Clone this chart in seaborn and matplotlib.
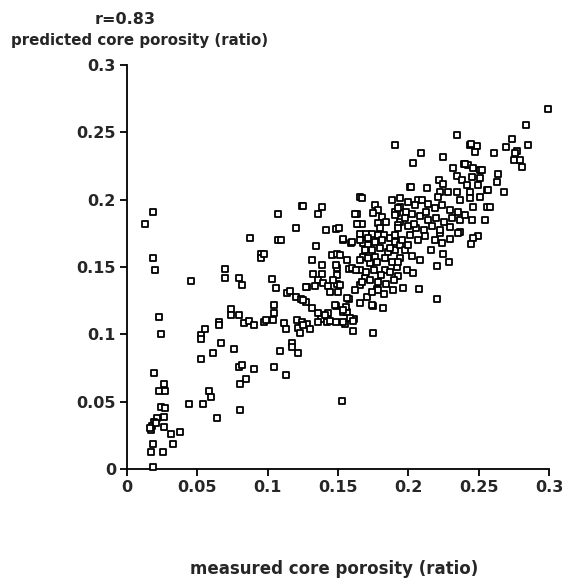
import matplotlib
matplotlib.use("Agg")
import matplotlib.pyplot as plt
import seaborn as sns
import pandas as pd

measured = [
    0.013, 0.0187, 0.0187, 0.020, 0.023, 0.024, 0.019, 0.026, 0.023, 0.027, 0.024, 0.027, 0.026, 0.021,
    0.019, 0.018, 0.017, 0.0206, 0.026, 0.031, 0.038, 0.0187, 0.033, 0.017, 0.0256, 0.0185, 0.0163,
    0.0526, 0.0526, 0.0552, 0.0666, 0.061, 0.0526, 0.0763, 0.0798, 0.0814, 0.0905, 0.0846, 0.0805,
    0.0581, 0.0597, 0.0439, 0.0538, 0.0805, 0.0638,
    0.0455, 0.0694, 0.0694, 0.0794, 0.0817, 0.0874, 0.095, 0.095, 0.0974, 0.0652, 0.0652, 0.0737,
    0.0737, 0.0794, 0.0834, 0.0865, 0.0903, 0.0976,
    0.1075, 0.1242, 0.1384, 0.1355, 0.1201, 0.1075, 0.1098, 0.1414, 0.1485, 0.1507, 0.1343, 0.1537,
    0.159, 0.1313, 0.1455, 0.1495, 0.1514, 0.1561, 0.1384, 0.1495, 0.158, 0.1324, 0.1384, 0.149,
    0.136, 0.1033, 0.1059, 0.1277, 0.1336, 0.1395, 0.1431, 0.149, 0.1502, 0.1443, 0.1135, 0.1158,
    0.1201, 0.1235, 0.1272, 0.1313, 0.1045, 0.1045, 0.0988, 0.1036, 0.1116, 0.121, 0.1242, 0.1281,
    0.136, 0.1431, 0.1377, 0.1431, 0.1485, 0.1537, 0.1561, 0.1556, 0.1613, 0.1549, 0.158, 0.1656,
    0.1751, 0.1822, 0.1704, 0.1775, 0.1893, 0.1964, 0.1656, 0.1727, 0.168, 0.1763, 0.1834, 0.1917,
    0.1988, 0.1656, 0.1763, 0.1786, 0.1751, 0.1633, 0.181, 0.1644, 0.1668, 0.1786, 0.1656, 0.1699,
    0.1739, 0.1786, 0.1827, 0.168, 0.1715, 0.2011, 0.194, 0.1917, 0.194, 0.1983,
    0.1905, 0.1668, 0.1249, 0.162, 0.1905, 0.1926, 0.1633, 0.1926, 0.1537,
    0.2343, 0.2438, 0.2485, 0.2473, 0.2087, 0.2244, 0.2031, 0.2315, 0.2395, 0.2426, 0.2461, 0.2509,
    0.2343, 0.2379, 0.245, 0.2509, 0.222, 0.2248, 0.2016, 0.213, 0.2414, 0.2497, 0.2557, 0.2225,
    0.2284, 0.2343, 0.2438, 0.2509, 0.2438, 0.207, 0.2212, 0.2367, 0.2456, 0.2557, 0.245, 0.2544,
    0.2367, 0.2296,
    0.2994, 0.2836, 0.2738, 0.2852, 0.2443, 0.2608, 0.2694, 0.2774, 0.2758, 0.2751, 0.2793, 0.281,
    0.2402, 0.2521, 0.2639, 0.2628, 0.2679, 0.258, 0.2568, 0.2497, 0.2457, 0.2367,
    0.2443, 0.2158, 0.2244, 0.2286, 0.2201, 0.2035, 0.2075, 0.2201, 0.2189, 0.2237, 0.2296, 0.2355,
    0.2225,
    0.1597, 0.1485, 0.1272, 0.1467, 0.1514, 0.1597, 0.1656, 0.1692, 0.1786, 0.1253, 0.1407, 0.1478,
    0.1537, 0.1561, 0.1585, 0.1739, 0.136, 0.1419, 0.1537,
    0.113, 0.1217, 0.123, 0.1249, 0.13, 0.1443, 0.1485, 0.1608, 0.1608, 0.1751, 0.1171, 0.1171,
    0.1217, 0.1087, 0.1045, 0.113, 0.1526,
    0.1656, 0.1713, 0.1763, 0.1812, 0.1869, 0.1905, 0.1692, 0.1741, 0.1798, 0.1855, 0.1905, 0.1656,
    0.1713, 0.1777, 0.1834, 0.1883, 0.1628, 0.1699, 0.1756, 0.1805, 0.1869, 0.1926, 0.167, 0.1727,
    0.1784, 0.1841, 0.1898, 0.1741, 0.1827, 0.162, 0.194, 0.194,
    0.1883, 0.194, 0.1997, 0.2047, 0.2097, 0.2139, 0.2189, 0.2239, 0.2296, 0.2353, 0.2402, 0.1905,
    0.1976, 0.2026, 0.2082, 0.2139, 0.2196, 0.2253, 0.231, 0.1926, 0.1997, 0.2054, 0.2111, 0.2168,
    0.2225, 0.2011, 0.2068, 0.2118, 0.1905, 0.1955, 0.1869, 0.1976, 0.2026, 0.2082, 0.1926, 0.1997,
    0.204, 0.2125, 0.1798, 0.1841,
]

predicted = [
    0.182, 0.1906, 0.1566, 0.148, 0.1128, 0.100, 0.0713, 0.0629, 0.0581, 0.0581, 0.0462, 0.045, 0.0388,
    0.0376, 0.0351, 0.0319, 0.029, 0.0341, 0.0314, 0.0258, 0.0272, 0.0186, 0.0186, 0.0126, 0.0126,
    0.0015, 0.0304,
    0.0995, 0.0963, 0.1039, 0.0935, 0.0861, 0.0817, 0.0891, 0.0759, 0.0772, 0.0742, 0.0668, 0.0629,
    0.0581, 0.0537, 0.048, 0.048, 0.0436, 0.0376,
    0.1393, 0.1482, 0.142, 0.142, 0.1364, 0.1715, 0.1596, 0.1566, 0.1596, 0.1094, 0.1073, 0.1186,
    0.1141, 0.1141, 0.1082, 0.1097, 0.1067, 0.1094,
    0.1893, 0.1952, 0.1943, 0.1893, 0.1787, 0.170, 0.170, 0.1774, 0.1782, 0.1789, 0.1658, 0.170,
    0.1676, 0.1552, 0.1589, 0.1596, 0.1589, 0.1552, 0.1514, 0.149, 0.1483, 0.1448, 0.1448, 0.144,
    0.1403, 0.1408, 0.1346, 0.1349, 0.1359, 0.1379, 0.1359, 0.1373, 0.1316, 0.1316, 0.1304, 0.1324,
    0.1275, 0.126, 0.1242, 0.1193, 0.1218, 0.1156, 0.1106, 0.1106, 0.1086, 0.1106, 0.1094, 0.1076,
    0.1156, 0.1156, 0.1111, 0.1106, 0.121, 0.1168, 0.1168, 0.1205, 0.1111, 0.1076, 0.126, 0.123,
    0.121, 0.1197, 0.1275, 0.1334, 0.1329, 0.1346, 0.1477, 0.1527, 0.1576, 0.1576, 0.1477, 0.1497,
    0.1477, 0.2017, 0.196, 0.1923, 0.1898, 0.1891, 0.1873, 0.1819, 0.1819, 0.1824, 0.1745, 0.1745,
    0.1745, 0.1737, 0.1737, 0.1676, 0.1663, 0.2096, 0.1947, 0.19, 0.1836, 0.191,
    0.2405, 0.201, 0.1952, 0.1893, 0.191, 0.1935, 0.1819, 0.1811, 0.171,
    0.248, 0.2405, 0.2398, 0.2356, 0.2348, 0.2318, 0.2274, 0.2232, 0.2262, 0.2257, 0.2232, 0.222,
    0.2175, 0.2146, 0.217, 0.2158, 0.2146, 0.2116, 0.2096, 0.2084, 0.2108, 0.2108, 0.2071, 0.2059,
    0.2059, 0.2059, 0.2059, 0.2022, 0.201, 0.1997, 0.2022, 0.1997, 0.1947, 0.1947, 0.1849, 0.1849,
    0.1849, 0.1799,
    0.267, 0.2554, 0.245, 0.2405, 0.2413, 0.2348, 0.2393, 0.2363, 0.2344, 0.2294, 0.2294, 0.2244,
    0.2264, 0.222, 0.2188, 0.2133, 0.2054, 0.1947, 0.2071, 0.173, 0.1713, 0.1762,
    0.167, 0.1626, 0.1596, 0.1537, 0.1509, 0.1453, 0.1334, 0.126, 0.170, 0.1676, 0.1705, 0.1754,
    0.175,
    0.1683, 0.1514, 0.1353, 0.1403, 0.1366, 0.149, 0.1366, 0.1416, 0.1329, 0.1255, 0.1143, 0.1217,
    0.118, 0.1267, 0.1119, 0.1217, 0.1089, 0.1089, 0.1089,
    0.1037, 0.1045, 0.1007, 0.1069, 0.1037, 0.1099, 0.1094, 0.1024, 0.1099, 0.1007, 0.0933, 0.0903,
    0.0863, 0.0876, 0.0759, 0.0698, 0.0507,
    0.170, 0.1715, 0.1685, 0.170, 0.1715, 0.1685, 0.1626, 0.1626, 0.1641, 0.1611, 0.1626, 0.1552,
    0.1566, 0.1537, 0.1566, 0.1537, 0.1477, 0.1463, 0.1477, 0.144, 0.1463, 0.1433, 0.1388, 0.1403,
    0.1388, 0.1373, 0.1403, 0.1314, 0.1299, 0.1329, 0.1566, 0.1663,
    0.1997, 0.2012, 0.1982, 0.196, 0.1997, 0.1967, 0.1938, 0.196, 0.1923, 0.1908, 0.1886, 0.1886,
    0.1863, 0.1893, 0.1878, 0.1849, 0.1863, 0.1834, 0.1863, 0.1789, 0.1804, 0.1789, 0.1774, 0.1804,
    0.1774, 0.1737, 0.170, 0.173, 0.1737, 0.170, 0.1641, 0.1626, 0.1581, 0.1552, 0.1537, 0.1663,
    0.1819, 0.1908, 0.1789, 0.1834,
]

tick_values = [0, 0.05, 0.1, 0.15, 0.2, 0.25, 0.3]
tick_labels = ["0", "0.05", "0.1", "0.15", "0.2", "0.25", "0.3"]

n = min(len(measured), len(predicted))
df = pd.DataFrame({"measured": measured[:n], "predicted": predicted[:n]})

sns.set_style("ticks")
plt.rcParams["font.family"] = ["DejaVu Sans"]

fig = plt.figure(figsize=(5.62, 5.83), dpi=100)
ax = fig.add_axes([0.226, 0.1955, 0.751, 0.693])

sns.scatterplot(data=df, x="measured", y="predicted", ax=ax, marker="s", s=18,
                facecolor="white", edgecolor="black", linewidth=1.3, clip_on=False, zorder=3)

ax.set_xlim(0, 0.3)
ax.set_ylim(0, 0.3)
ax.set_xticks(tick_values)
ax.set_xticklabels(tick_labels)
ax.set_yticks(tick_values)
ax.set_yticklabels(tick_labels)
ax.set_xlabel("")
ax.set_ylabel("")
for lab in ax.get_xticklabels() + ax.get_yticklabels():
    lab.set_fontweight("bold")
    lab.set_fontsize(11.5)
ax.tick_params(axis="both", direction="out", length=5, width=1.3, color="black", pad=3)
sns.despine(ax=ax)
for sp in ["left", "bottom"]:
    ax.spines[sp].set_linewidth(1.3)
    ax.spines[sp].set_color("black")

fig.text(0.222, 0.966, "r=0.83", ha="center", va="center", fontsize=11.5, fontweight="bold")
fig.text(0.248, 0.931, "predicted core porosity (ratio)", ha="center", va="center",
         fontsize=10.8, fontweight="bold")
fig.text(0.594, 0.024, "measured core porosity (ratio)", ha="center", va="center",
         fontsize=12, fontweight="bold")

fig.savefig("out.png", dpi=100)
